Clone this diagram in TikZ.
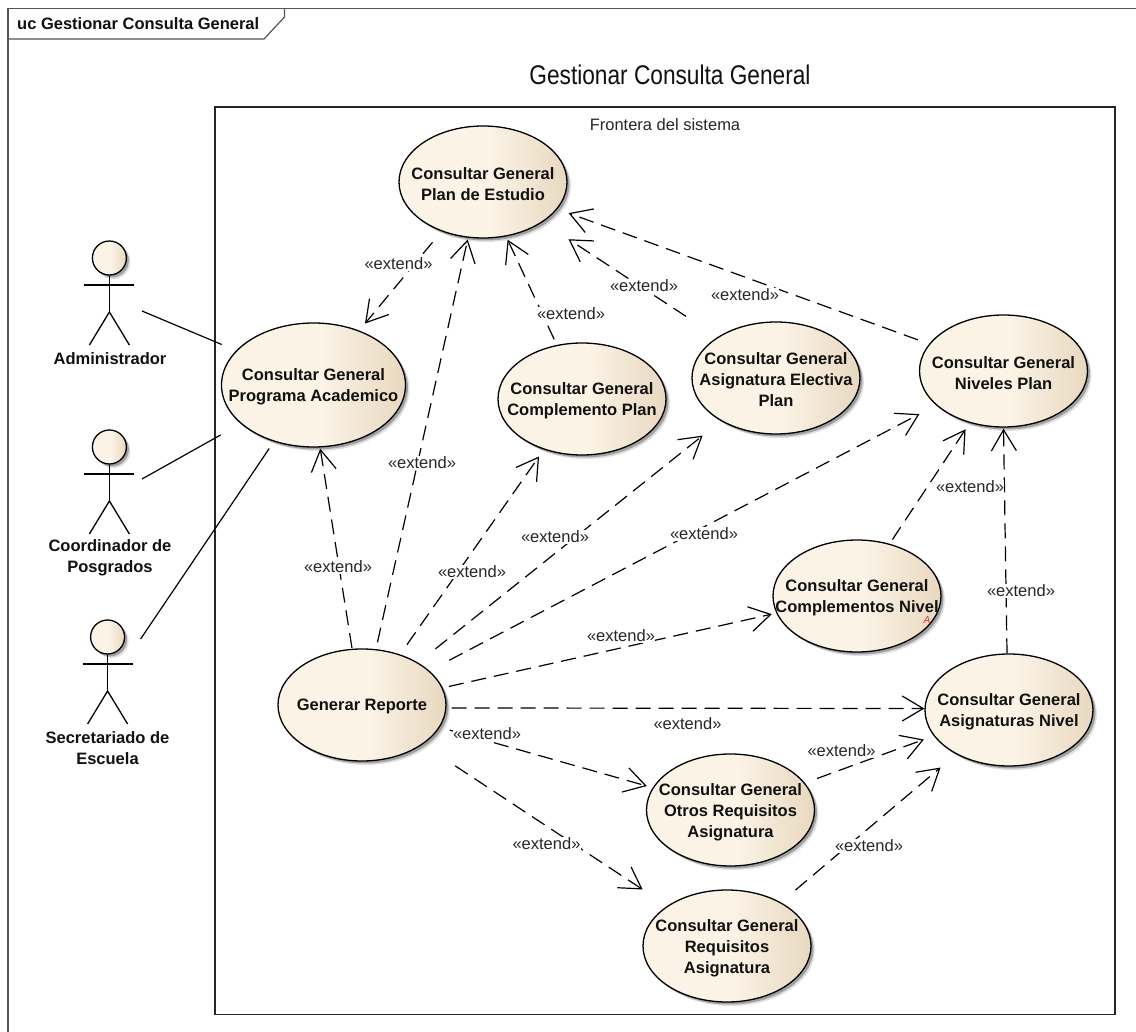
\documentclass[tikz,border=0pt]{standalone}
\usepackage{fontspec}
\setmainfont{Liberation Sans}
\usetikzlibrary{shapes.geometric,arrows.meta,shadows,calc}
\definecolor{inkc}{HTML}{111111}
\definecolor{framec}{HTML}{555555}
\definecolor{ucA}{HTML}{FBF3E6}
\definecolor{ucB}{HTML}{E8D8BF}
\pgfdeclarehorizontalshading{ucfill}{100bp}{color(0bp)=(ucA);color(25bp)=(ucA);color(52bp)=(ucA);color(75bp)=(ucB);color(100bp)=(ucB)}
\newcommand{\uctext}{\fontsize{16.5}{21}\selectfont}
\tikzset{
  shadowed/.style={drop shadow={shadow xshift=4pt,shadow yshift=-4pt,fill=black,opacity=.12},
                   drop shadow={shadow xshift=2.5pt,shadow yshift=-2.5pt,fill=black,opacity=.28}},
  usecase/.style={ellipse,draw=black,line width=1.3pt,inner sep=0pt,minimum width=168pt,minimum height=112pt,
                  shadowed,shading=ucfill},
  uclabel/.style={font=\uctext\bfseries,align=center,text=inkc,inner sep=0pt,yshift=-1.8pt},
  head/.style={circle,draw=black,line width=1.3pt,inner sep=0pt,minimum size=34pt,shadowed,shading=ucfill},
  limb/.style={draw=black,line width=1.3pt},
  assoc/.style={draw=black,line width=1.2pt},
  dep/.style={draw=black,line width=1.2pt,dash pattern=on 15pt off 8pt,-{Straight Barb[length=21pt,width=25pt,line width=1.2pt]}},
  ext/.style={font=\uctext,text=black!85,fill=white,inner sep=0.5pt,yshift=-1pt},
  frameline/.style={draw=framec,line width=1.2pt},
  boundary/.style={draw=black!85,line width=1.3pt},
}
\newcommand{\ucnode}[4]{\node[usecase,label={[uclabel]center:#4}] (#1) at (#2,#3) {};}
\newcommand{\ucactor}[3]{%
  \node[head] (#1) at (#2,#3) {};
  \coordinate (#1arm) at (#2,#3+27);
  \coordinate (#1hip) at (#2,#3+54);
  \draw[limb] (#1.south) -- (#1hip);
  \draw[limb] ($(#1arm)+(-25,0)$) -- ($(#1arm)+(25,0)$);
  \draw[limb] ($(#1hip)+(-20,33)$) -- (#1hip) -- ($(#1hip)+(20,33)$);
}
\begin{document}
\begin{tikzpicture}[x=1pt,y=-1pt]
\useasboundingbox (0,0) rectangle (1136,1032);
\fill[white] (0,0) rectangle (1136,1032);

% frame
\coordinate (fbl) at (8,1032);
\coordinate (ftl) at (8,8.5);
\coordinate (ftr) at (1136,8.5);
\coordinate (tabA) at (284.5,8.5);
\coordinate (tabB) at (284.5,17);
\coordinate (tabC) at (264,39);
\coordinate (tabD) at (8,39);
\draw[frameline] (fbl) -- (ftl) -- (ftr);
\draw[frameline] (tabA) -- (tabB) -- (tabC) -- (tabD);
\node[font=\uctext\bfseries,text=inkc,inner sep=0pt,anchor=west] (frametitle) at (17,24) {uc Gestionar Consulta General};

\node[inner sep=0pt,text=inkc] (title) at (670,75) {\scalebox{0.84}[1]{\fontsize{27}{30}\selectfont Gestionar Consulta General}};

% system boundary
\draw[boundary] (215,107) rectangle (1115,1014.5);
\node[font=\uctext,text=black!85,inner sep=0pt] (fronterat) at (665,125) {Frontera del sistema};

% use cases
\ucnode{plan}{483}{182}{Consultar General\\Plan de Estudio}
\node[usecase,minimum width=184pt,minimum height=124pt,label={[uclabel]center:Consultar General\\Programa Academico}] (prog) at (313.5,385) {};
\ucnode{cplan}{582}{399}{Consultar General\\Complemento Plan}
\ucnode{elec}{776}{378}{Consultar General\\Asignatura Electiva\\Plan}
\ucnode{nivp}{1003.5}{371}{Consultar General\\Niveles Plan}
\ucnode{cniv}{857}{596}{Consultar General\\Complementos Nivel}
\ucnode{asig}{1009}{710}{Consultar General\\Asignaturas Nivel}
\ucnode{otros}{730.5}{810}{Consultar General\\Otros Requisitos\\Asignatura}
\ucnode{req}{727}{946}{Consultar General\\Requisitos\\Asignatura}
\ucnode{rep}{362}{705}{Generar Reporte}

\node[font=\fontsize{10}{10}\selectfont\itshape,text=red!85!white,inner sep=0pt] (redmark) at (927,620) {A};

% actors
\ucactor{adm}{109.4}{258}
\ucactor{coo}{109.4}{447}
\ucactor{sec}{107.6}{637}
\node[uclabel] (admt) at (110,357) {Administrador};
\node[uclabel] (coot) at (110,555.5) {Coordinador de\\Posgrados};
\node[uclabel] (sect) at (107.5,746) {Secretariado de\\Escuela};

% associations
\coordinate (admend) at (142,311);
\coordinate (cooend) at (142,479);
\coordinate (secend) at (140.6,639);
\draw[assoc,shorten >=15.6pt] (admend) -- (prog.156.4);
\draw[assoc,shorten >=22.8pt] (cooend) -- (prog.208.7);
\draw[assoc,shorten >=8.3pt] (secend) -- (prog.235.4);

% extend dependencies
\draw[dep,shorten <=14pt,shorten >=9pt] (plan.230.2) -- (prog.50.8);
\draw[dep,shorten <=7pt,shorten >=1.8pt] (rep.76.4) -- (plan.255.7);
\draw[dep,shorten <=.9pt,shorten >=1.2pt] (rep.100.1) -- (prog.276.8);
\draw[dep,shorten <=6.2pt,shorten >=3.5pt] (cplan.115.4) -- (plan.293.7);
\draw[dep,shorten <=37.6pt,shorten >=31pt] (elec.145.9) -- (plan.326.2);
\draw[dep,shorten <=12pt,shorten >=12pt] (nivp.160.1) -- (plan.340);
\draw[dep,shorten <=12pt,shorten >=8.4pt] (rep.53.7) -- (cplan.233.6);
\draw[dep,shorten <=22pt,shorten >=23.4pt] (rep.37.9) -- (elec.218);
\draw[dep,shorten <=22.5pt,shorten >=18.9pt] (rep.27.6) -- (nivp.207.2);
\draw[dep,shorten <=6.4pt,shorten >=4.6pt] (rep.12.5) -- (cniv.192.7);
\draw[dep,shorten <=5pt] (rep.358.7) -- (asig.179.3);
\draw[dep,shorten <=10.3pt,shorten >=6.1pt] (rep.344) -- (otros.164.6);
\draw[dep,shorten <=38.9pt,shorten >=29.6pt] (rep.327.2) -- (req.146.3);
\draw[dep,shorten <=5pt,shorten >=7.6pt] (cniv.58) -- (nivp.237.5);
\draw[dep,shorten >=1pt] (asig.92) -- (nivp.270);
\draw[dep,shorten <=13pt,shorten >=10.5pt] (otros.20.5) -- (asig.199.7);
\draw[dep,shorten <=19pt,shorten >=20.5pt] (req.39.9) -- (asig.220);

% labels
\node[ext] (e1) at (398.5,263) {«extend»};
\node[ext] (e2) at (422,462) {«extend»};
\node[ext] (e3) at (571,313) {«extend»};
\node[ext] (e4) at (644,285) {«extend»};
\node[ext] (e5) at (745,294) {«extend»};
\node[ext] (e6) at (338,566) {«extend»};
\node[ext] (e7) at (472,571) {«extend»};
\node[ext] (e8) at (555,536) {«extend»};
\node[ext] (e9) at (704,533) {«extend»};
\node[ext] (e10) at (621,635) {«extend»};
\node[ext] (e11) at (687.5,723) {«extend»};
\node[ext] (e12) at (487,733) {«extend»};
\node[ext] (e13) at (841.5,750) {«extend»};
\node[ext] (e14) at (869,845) {«extend»};
\node[ext] (e15) at (546.5,843) {«extend»};
\node[ext] (e16) at (970,486) {«extend»};
\node[ext] (e17) at (1021,590) {«extend»};
\end{tikzpicture}
\end{document}
